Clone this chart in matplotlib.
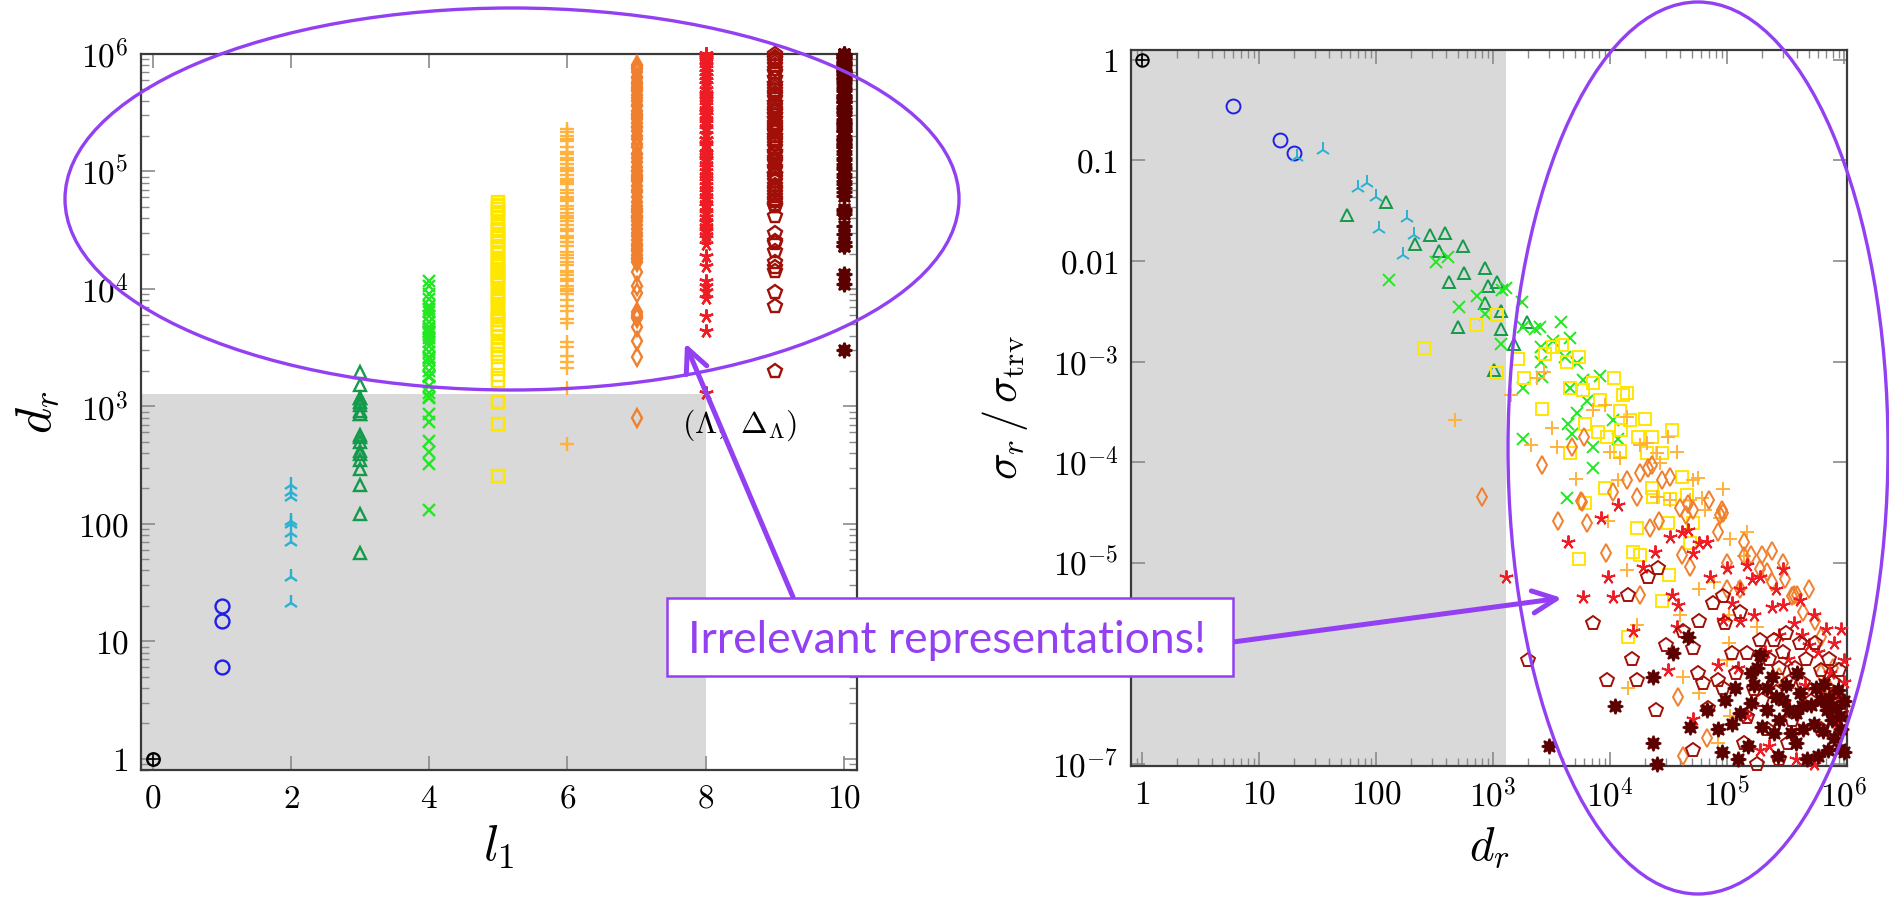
"""Representation dimension vs. level, and relative cross-section vs. dimension."""

import numpy as np
import matplotlib
matplotlib.use("Agg")
import matplotlib.pyplot as plt
from matplotlib.patches import Ellipse, Rectangle, FancyArrowPatch, ArrowStyle
from matplotlib.ticker import LogLocator, NullLocator, NullFormatter

plt.rcParams["mathtext.fontset"] = "cm"
plt.rcParams["font.family"] = ["DejaVu Serif"]

W, H = 1890, 899
PURPLE = "#9340F2"
SHADE = "#d9d9d9"

# shaded region: d_r below the cut (and l_1 up to 8 on the left)
D_CUT = 1.28e3
L1_CUT = 8

# (d_r, sigma_r / sigma_trv) for every level l_1
pts_l0 = [(1, 1.0)]
pts_l1 = [(6, 0.35), (15, 0.16), (20, 0.12)]
pts_l2 = [(21, 0.108), (35, 0.127), (70, 0.053), (84, 0.060), (100, 0.043),
          (106, 0.021), (170, 0.0115), (185, 0.027), (212, 0.018)]
pts_l3 = [(56, 0.0287), (122, 0.0386), (215, 0.0148), (290, 0.018), (346, 0.0125),
          (390, 0.019), (420, 0.0062), (500, 0.0022), (550, 0.014), (565, 0.0076),
          (855, 0.0085), (855, 0.0038), (910, 0.0056), (1020, 8.3e-4), (1080, 0.0062),
          (1170, 0.0032), (1170, 0.0021), (1510, 0.0015), (1950, 0.0025)]
pts_l4 = [(130, 6.5e-3), (325, 9.8e-3), (410, 1.1e-2), (510, 3.5e-3), (730, 4.5e-3),
          (855, 3.0e-3), (1200, 5.1e-3), (1290, 5.4e-3), (1770, 3.9e-3), (1170, 1.5e-3),
          (1800, 2.2e-3), (2300, 2.1e-3), (2500, 2.2e-3), (3800, 2.5e-3), (4570, 1.7e-3),
          (3240, 1.6e-3), (2560, 1.4e-3), (2560, 1.0e-3), (4150, 1.1e-3), (5200, 9.6e-4),
          (5900, 6.6e-4), (8200, 7.2e-4), (1800, 5.5e-4), (2640, 7.0e-4), (4570, 5.5e-4),
          (6300, 4.0e-4), (5200, 3.1e-4), (10500, 2.6e-4), (4370, 2.4e-4), (4730, 1.9e-4),
          (7100, 1.4e-4), (11700, 1.7e-4), (1800, 1.7e-4), (7100, 8.7e-5), (4300, 4.4e-5)]
pts_l5 = [(256, 1.36e-3), (710, 2.3e-3), (1080, 2.9e-3), (1080, 7.7e-4), (1630, 1.06e-3),
          (1840, 6.9e-4), (2640, 3.4e-4), (2770, 1.19e-3), (3240, 1.39e-3), (3880, 1.45e-3),
          (4260, 9.9e-4), (5430, 1.1e-3), (4570, 5.5e-4), (5880, 5.2e-4), (7160, 6.1e-4),
          (10800, 6.9e-4), (12900, 4.6e-4), (14000, 4.9e-4), (8200, 4.1e-4), (12200, 3.2e-4),
          (14800, 2.6e-4), (19800, 2.7e-4), (6100, 2.4e-4), (7900, 2.0e-4), (9400, 1.78e-4),
          (12400, 2.1e-4), (17400, 1.78e-4), (22900, 1.78e-4), (34000, 2.1e-4), (4570, 1.23e-4),
          (12200, 1.3e-4), (20800, 1.23e-4), (27700, 1.23e-4), (41000, 7.1e-5), (9100, 5.5e-5),
          (22900, 5.5e-5), (32500, 4.3e-5), (45500, 4.7e-5), (6100, 3.9e-5), (17000, 2.2e-5),
          (31000, 2.5e-5), (15800, 1.27e-5), (18200, 1.2e-5), (5430, 1.08e-5), (31800, 7.5e-6),
          (27700, 4.1e-6), (14300, 1.8e-6), (48000, 1.55e-5), (23300, 4.5e-5), (51000, 2.5e-5)]
pts_l6 = [(473, 2.6e-4), (1420, 4.6e-4), (2370, 6.9e-4), (2700, 7.8e-4), (3200, 2.2e-4),
          (2100, 1.47e-4), (3500, 1.4e-4), (5100, 6.8e-5), (7100, 3.3e-4), (9100, 3.7e-4),
          (10000, 1.26e-4), (12200, 1.1e-4), (14000, 2.8e-4), (18200, 1.47e-4), (20800, 1.55e-4),
          (31000, 1.78e-4), (37700, 1.26e-4), (25300, 1.23e-4), (11700, 6.6e-5), (26900, 9.8e-5),
          (51000, 6.6e-5), (56000, 7.0e-5), (93000, 5.4e-5), (25300, 4.5e-5), (32500, 4.2e-5),
          (61000, 4.4e-5), (9600, 2.6e-5), (14000, 8.4e-6), (17000, 2.4e-6), (42000, 7.3e-7),
          (14300, 5.7e-7), (58000, 5.0e-7), (106000, 3.0e-7), (147000, 2.0e-5), (106000, 1.7e-5),
          (78000, 6.4e-6), (58000, 5.4e-6), (100000, 1.07e-6), (180000, 2.3e-6), (124000, 5.6e-6),
          (40000, 3.0e-6), (83000, 1.6e-7), (48000, 4.2e-5), (140000, 1.15e-5), (65000, 3.3e-5),
          (87000, 2.8e-5), (103000, 3.0e-6), (103000, 1.6e-6)]
pts_l7 = [(800, 4.5e-5), (2640, 9.3e-5), (3600, 2.6e-5), (4700, 1.4e-4), (5600, 4.1e-5),
          (5800, 4.0e-5), (6000, 1.78e-4), (6300, 2.5e-5), (9300, 1.24e-5), (10500, 5.0e-5),
          (14000, 6.6e-5), (17000, 4.5e-5), (18000, 7.8e-5), (18200, 4.8e-6), (21000, 8.7e-5),
          (21800, 2.2e-5), (23000, 9.4e-5), (26000, 2.6e-5), (28000, 6.6e-5), (32500, 7.1e-5),
          (38000, 4.6e-7), (40000, 3.5e-5), (41000, 1.2e-5), (42000, 1.2e-7), (45000, 3.0e-5),
          (46000, 3.8e-5), (48000, 9.1e-6), (51000, 3.3e-5), (67000, 1.8e-7), (70000, 4.2e-5),
          (83000, 2.0e-5), (87000, 3.0e-5), (90000, 3.3e-5), (93000, 3.1e-5), (100000, 1.0e-5),
          (100000, 5.4e-6), (130000, 5.4e-6), (140000, 1.6e-5), (140000, 1.15e-5), (160000, 1.2e-5),
          (190000, 8.6e-6), (200000, 1.2e-5), (220000, 8.0e-6), (240000, 1.3e-5), (240000, 6.4e-6),
          (280000, 7.3e-7), (310000, 6.8e-6), (360000, 4.6e-6), (370000, 4.8e-6), (400000, 4.8e-6),
          (450000, 3.2e-6), (630000, 1.8e-6), (640000, 7.9e-7), (750000, 5.6e-7), (800000, 9.0e-7),
          (300000, 1.0e-5), (500000, 5.5e-6), (560000, 2.6e-6)]
pts_l8 = [(1300, 7.2e-6), (4400, 1.6e-5), (5900, 4.5e-6), (8400, 2.8e-5), (9600, 7.1e-6),
          (10500, 4.5e-6), (11700, 3.7e-5), (15700, 2.1e-6), (19000, 9.1e-6), (24000, 1.27e-5),
          (31000, 8.5e-7), (32500, 1.8e-5), (34000, 4.8e-6), (37000, 2.3e-6), (38000, 3.8e-6),
          (41000, 2.0e-5), (46000, 2.1e-5), (51000, 1.24e-5), (51000, 2.8e-7), (58000, 1.55e-5),
          (67000, 1.6e-5), (71000, 7.2e-6), (83000, 9.6e-7), (93000, 2.7e-6), (100000, 8.9e-6),
          (124000, 9.0e-7), (130000, 5.4e-6), (130000, 2.6e-6), (147000, 9.5e-6), (147000, 3.0e-7),
          (165000, 6.9e-6), (190000, 7.2e-6), (190000, 1.35e-7), (240000, 3.6e-6), (300000, 3.8e-6),
          (300000, 8.6e-6), (340000, 3.6e-7), (370000, 2.5e-6), (390000, 1.1e-7), (440000, 1.9e-6),
          (500000, 1.5e-6), (550000, 3.0e-6), (550000, 1.0e-7), (760000, 8.0e-7), (880000, 2.3e-7),
          (1000000, 1.07e-6), (1000000, 6.5e-7), (110000, 4.0e-6), (170000, 3.0e-6),
          (210000, 1.3e-6), (260000, 5.5e-6), (280000, 1.9e-6), (330000, 1.1e-6), (420000, 4.2e-6),
          (460000, 6.0e-7), (600000, 1.3e-6), (650000, 4.6e-7), (700000, 2.2e-6), (820000, 1.6e-6),
          (900000, 4.5e-7), (950000, 2.2e-6), (230000, 1.5e-7)]
pts_l9 = [(2000, 1.07e-6), (7100, 2.5e-6), (9400, 6.8e-7), (14300, 4.8e-6), (15300, 1.1e-6),
          (17000, 6.8e-7), (21000, 7.2e-6), (24800, 3.4e-7), (25500, 8.9e-6), (30000, 1.5e-6),
          (42000, 2.1e-6), (51000, 1.4e-6), (51000, 1.35e-7), (56000, 8.0e-7), (58000, 2.6e-6),
          (62000, 6.3e-7), (69000, 3.6e-7), (76000, 4.0e-6), (83000, 6.8e-7), (93000, 4.6e-6),
          (93000, 5.6e-7), (96000, 2.5e-6), (110000, 1.26e-6), (130000, 3.2e-6), (140000, 1.6e-7),
          (147000, 1.26e-6), (147000, 2.9e-7), (180000, 1.0e-7), (190000, 1.7e-6), (200000, 4.3e-7),
          (200000, 1.2e-6), (250000, 1.7e-6), (280000, 9.0e-7), (280000, 1.1e-7), (320000, 2.0e-6),
          (340000, 6.5e-7), (360000, 2.7e-7), (420000, 1.6e-6), (450000, 6.3e-7), (630000, 8.5e-7),
          (630000, 2.2e-7), (800000, 6.5e-7), (120000, 8.0e-7), (170000, 5.5e-7), (230000, 1.1e-6),
          (260000, 5.2e-7), (300000, 1.3e-6), (380000, 9.0e-7), (470000, 1.1e-6), (520000, 4.2e-7),
          (560000, 1.6e-6), (700000, 4.8e-7), (750000, 1.1e-6), (900000, 8.5e-7), (950000, 3.2e-7),
          (330000, 1.6e-7), (220000, 2.2e-7)]
pts_l10 = [(3000, 1.5e-7), (11000, 3.7e-7), (23300, 7.3e-7), (23300, 1.6e-7), (25300, 1.0e-7),
           (34500, 1.26e-6), (46000, 1.8e-6), (48000, 2.3e-7), (67000, 3.4e-7), (83000, 2.2e-7),
           (90000, 1.3e-7), (96000, 4.3e-7), (116000, 5.7e-7), (124000, 1.1e-7), (160000, 8.0e-7),
           (160000, 4.0e-7), (180000, 9.0e-7), (200000, 2.3e-7), (220000, 5.7e-7), (220000, 3.4e-7),
           (240000, 7.3e-7), (250000, 2.0e-7), (280000, 2.7e-7), (300000, 4.3e-7), (340000, 3.4e-7),
           (390000, 3.2e-7), (390000, 1.6e-7), (440000, 3.7e-7), (480000, 1.1e-7), (550000, 2.5e-7),
           (580000, 5.7e-7), (630000, 4.3e-7), (660000, 2.1e-7), (710000, 3.4e-7), (730000, 1.35e-7),
           (790000, 2.7e-7), (880000, 5.4e-7), (930000, 1.4e-7), (930000, 3.0e-7), (1000000, 1.3e-7),
           (110000, 2.5e-7), (150000, 1.5e-7), (170000, 6.0e-7), (260000, 4.6e-7), (270000, 1.2e-7),
           (320000, 6.0e-7), (350000, 2.0e-7), (420000, 5.0e-7), (450000, 2.2e-7), (520000, 3.8e-7),
           (600000, 1.2e-7), (680000, 6.2e-7), (750000, 4.5e-7), (820000, 1.8e-7), (860000, 3.6e-7),
           (950000, 2.2e-7), (1000000, 4.2e-7), (130000, 3.2e-7), (190000, 1.2e-6), (400000, 8.0e-7)]

# further d_r per level whose sigma lies off the right-hand range (left panel only)
low_l4 = [1500, 2000, 2900, 3500, 6800, 9000]
low_l5 = [2200, 3000, 3500, 5000, 6700, 8700, 11000, 16000, 25000, 29000, 37000, 43000,
          52000, 55000]
low_l6 = [5500, 6500, 8000, 10500, 13000, 16000, 19500, 23000, 28000, 35000, 44000, 70000,
          80000, 115000, 130000, 160000, 190000, 200000, 215000, 230000]
low_l7 = [19500, 24000, 30000, 35000, 55000, 60000, 75000, 110000, 120000, 170000, 260000,
          290000, 330000, 420000, 480000, 520000, 580000, 700000, 780000]
low_l8 = [27000, 29000, 44000, 54000, 62000, 76000, 88000, 115000, 138000, 175000, 210000,
          270000, 320000, 410000, 470000, 600000, 650000, 700000, 800000, 900000, 950000, 1000000]
low_l9 = [53000, 65000, 72000, 88000, 105000, 125000, 160000, 215000, 240000, 300000, 380000,
          490000, 550000, 700000, 850000, 900000, 1000000]
low_l10 = [13500, 29500, 43000, 62000, 72000, 78000, 105000, 140000, 170000, 190000, 230000,
           260000, 320000, 360000, 420000, 500000, 620000, 700000, 830000, 960000, 1000000]

PTS = [pts_l0, pts_l1, pts_l2, pts_l3, pts_l4, pts_l5, pts_l6, pts_l7, pts_l8, pts_l9, pts_l10]
LOW = [[], [], [], [], low_l4, low_l5, low_l6, low_l7, low_l8, low_l9, low_l10]

MARKERS = ["o", "o", "2", "^", "x", "s", "+", "d", (5, 2, 0), "p", (8, 1, 0)]
COLORS = ["black", "#1f1fe6", "#2bb0d2", "#139a4a", "#22e822", "#ffe600",
          "#ffb23c", "#f07f2e", "#ee1c25", "#a01008", "#5c0000"]
SIZES = [9, 10, 11, 9, 8, 8, 10, 9, 10, 10, 11]


def draw_level(ax, x, y, k, mew=1.4):
    filled = k == 10
    ax.plot(x, y, ls="none", marker=MARKERS[k], ms=SIZES[k], mew=mew,
            mec=COLORS[k], mfc=COLORS[k] if filled else "none", clip_on=False, zorder=3)
    if k == 0:
        ax.plot(x, y, ls="none", marker="+", ms=SIZES[k], mew=1.2, color="black",
                clip_on=False, zorder=3)


def style_axes(ax):
    for s in ax.spines.values():
        s.set_color("#3a3a3a")
        s.set_linewidth(1.6)
    ax.tick_params(which="both", direction="in", top=True, right=True,
                   color="#8a8a8a", labelsize=24, pad=9)
    ax.tick_params(which="major", length=10, width=1.2)
    ax.tick_params(which="minor", length=6, width=1.0)


def fx(px):
    return px / W


def fy(py):
    return 1 - py / H


fig = plt.figure(figsize=(W / 100, H / 100), dpi=100)
ax1 = fig.add_axes([fx(141), fy(770), 716 / W, 716 / H])
ax2 = fig.add_axes([fx(1131), fy(766), 716 / W, 716 / H])

# left: d_r against l_1
ax1.set_yscale("log")
ax1.set_xlim(-0.17, 10.19)
ax1.set_ylim(0.8, 1e6)
ax1.add_patch(Rectangle((-1, 0.1), L1_CUT + 1, D_CUT - 0.1, color=SHADE, lw=0, zorder=0))
for k, pts in enumerate(PTS):
    dims = [p[0] for p in pts] + LOW[k]
    draw_level(ax1, np.full(len(dims), k), dims, k, mew=1.7)

ax1.set_xticks(range(0, 11, 2), [f"${v}$" for v in range(0, 11, 2)])
ax1.set_yticks([1, 10, 100, 1e3, 1e4, 1e5, 1e6],
               ["$1$", "$10$", "$100$", "$10^3$", "$10^4$", "$10^5$", "$10^6$"])
ax1.yaxis.set_minor_locator(LogLocator(base=10, subs=np.arange(2, 10)))
ax1.yaxis.set_minor_formatter(NullFormatter())
style_axes(ax1)
ax1.set_xlabel(r"$l_1$", fontsize=36, va="center")
ax1.xaxis.set_label_coords(0.5, (770 - 847) / 716)
ax1.set_ylabel(r"$d_r$", fontsize=36, va="center")
ax1.yaxis.set_label_coords((37 - 141) / 716, 0.5)
ax1.text(0.8366, 0.4818, r"$(\Lambda,\ \Delta_\Lambda)$", transform=ax1.transAxes,
         fontsize=23, ha="center", va="center")

# right: sigma_r / sigma_trv against d_r
ax2.set_xscale("log")
ax2.set_yscale("log")
ax2.set_xlim(0.805, 1.06e6)
ax2.set_ylim(9.45e-8, 1.257)
ax2.axvspan(0.1, D_CUT, color=SHADE, lw=0, zorder=0)
for k, pts in enumerate(PTS):
    draw_level(ax2, [p[0] for p in pts], [p[1] for p in pts], k)

ax2.set_xticks([1, 10, 100, 1e3, 1e4, 1e5, 1e6],
               ["$1$", "$10$", "$100$", "$10^3$", "$10^4$", "$10^5$", "$10^6$"])
ax2.xaxis.set_minor_locator(LogLocator(base=10, subs=np.arange(2, 10)))
ax2.xaxis.set_minor_formatter(NullFormatter())
ax2.set_yticks([1, 0.1, 0.01, 1e-3, 1e-4, 1e-5, 1e-6, 1e-7],
               ["$1$", "$0.1$", "$0.01$", "$10^{-3}$", "$10^{-4}$", "$10^{-5}$",
                "$10^{-6}$", "$10^{-7}$"])
ax2.yaxis.set_minor_locator(NullLocator())
style_axes(ax2)
ax2.set_xlabel(r"$d_r$", fontsize=34, va="center")
ax2.xaxis.set_label_coords(0.5, (766 - 847) / 716)
ax2.set_ylabel(r"$\sigma_r\,/\,\sigma_{\rm trv}$", fontsize=32, va="center")
ax2.yaxis.set_label_coords((1005 - 1131) / 716, 0.5)

# callout ellipses
fig.add_artist(Ellipse((fx(512), fy(199)), 894 / W, 382 / H, transform=fig.transFigure,
                       fill=False, ec=PURPLE, lw=2.4, zorder=5))
fig.add_artist(Ellipse((fx(1698), fy(448)), 380 / W, 892 / H, transform=fig.transFigure,
                       fill=False, ec=PURPLE, lw=2.4, zorder=5))

# arrows from the label box
head = ArrowStyle("->", head_length=17, head_width=8)
for start, end in [((793, 597), (685, 343)), ((1233, 642), (1562, 598))]:
    fig.add_artist(FancyArrowPatch((fx(start[0]), fy(start[1])), (fx(end[0]), fy(end[1])),
                                   transform=fig.transFigure, arrowstyle=head,
                                   mutation_scale=1, lw=3.6, color=PURPLE,
                                   shrinkA=0, shrinkB=0, zorder=6))

fig.add_artist(Rectangle((fx(667), fy(676)), (1233 - 667) / W, (676 - 598) / H,
                         transform=fig.transFigure, fc="white", ec=PURPLE, lw=1.8, zorder=7))
fig.text(fx(688), fy(653), "Irrelevant representations!", color=PURPLE, fontsize=32,
         family="Lato", ha="left", va="baseline", zorder=8)

fig.savefig("out.png", dpi=100)
